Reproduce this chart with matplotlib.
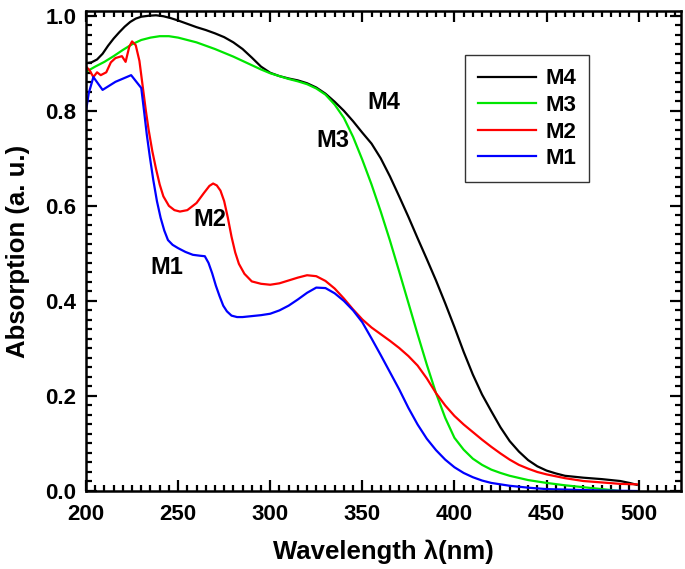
import matplotlib
matplotlib.use("Agg")
import matplotlib.pyplot as plt
from matplotlib.ticker import MultipleLocator

plt.rcParams['font.family'] = ['Liberation Sans', 'DejaVu Sans']
plt.rcParams['font.weight'] = 'bold'

# ── data ─────────────────────────────────────────────────────────────────────
m4_wl = [200, 203, 206, 209, 212, 215, 218, 221, 224, 227, 230, 234, 238, 242, 246,
         250, 255, 260, 265, 270, 275, 280, 285, 290, 295, 300, 305, 310, 315, 320,
         325, 330, 335, 340, 345, 350, 355, 360, 365, 370, 375, 380, 385, 390, 395,
         400, 405, 410, 415, 420, 425, 430, 435, 440, 445, 450, 455, 460, 470, 480,
         485, 490, 495, 499]
m4_abs = [0.900, 0.902, 0.908, 0.920, 0.937, 0.952, 0.965, 0.977, 0.987, 0.994, 0.998,
          1.000, 1.001, 0.999, 0.995, 0.990, 0.983, 0.976, 0.970, 0.963, 0.955, 0.944,
          0.930, 0.912, 0.893, 0.880, 0.873, 0.868, 0.864, 0.858, 0.849, 0.836, 0.819,
          0.800, 0.778, 0.754, 0.731, 0.700, 0.662, 0.620, 0.577, 0.532, 0.488, 0.443,
          0.395, 0.345, 0.293, 0.245, 0.203, 0.168, 0.134, 0.105, 0.083, 0.065, 0.052,
          0.043, 0.037, 0.032, 0.028, 0.025, 0.023, 0.021, 0.017, 0.013]

m3_wl = [200, 205, 210, 215, 220, 225, 230, 235, 240, 245, 250, 255, 260, 265, 270,
         275, 280, 285, 290, 295, 300, 305, 310, 315, 320, 325, 330, 335, 340, 345,
         350, 355, 360, 365, 370, 375, 380, 385, 390, 395, 400, 405, 410, 415, 420,
         425, 430, 440, 450, 460, 470, 480, 490]
m3_abs = [0.882, 0.893, 0.903, 0.915, 0.928, 0.940, 0.949, 0.954, 0.957, 0.957, 0.954,
          0.949, 0.944, 0.937, 0.930, 0.922, 0.914, 0.905, 0.896, 0.887, 0.879, 0.873,
          0.867, 0.862, 0.856, 0.847, 0.834, 0.813, 0.785, 0.745, 0.697, 0.645, 0.588,
          0.527, 0.462, 0.396, 0.330, 0.266, 0.206, 0.154, 0.112, 0.087, 0.068, 0.055,
          0.045, 0.038, 0.032, 0.023, 0.017, 0.012, 0.008, 0.004, 0.000]

m2_wl = [200, 202, 204, 206, 208, 211, 213.5, 216, 219.5, 221.5, 223.5, 225, 227, 229,
         230.5, 232.5, 234, 236, 238, 240, 242, 245, 248, 251, 255, 260, 264, 267, 269,
         271, 273, 275, 277, 279, 281, 283, 286, 290, 295, 300, 305, 310, 315, 320,
         325, 330, 335, 340, 345, 350, 355, 360, 365, 370, 375, 380, 385, 390, 395,
         400, 405, 410, 415, 420, 425, 430, 435, 440, 445, 450, 460, 470, 480, 490, 499]
m2_abs = [0.893, 0.885, 0.871, 0.881, 0.875, 0.881, 0.902, 0.911, 0.915, 0.903, 0.935,
          0.946, 0.938, 0.905, 0.860, 0.800, 0.760, 0.715, 0.678, 0.645, 0.620, 0.600,
          0.591, 0.588, 0.591, 0.606, 0.627, 0.642, 0.647, 0.643, 0.632, 0.610, 0.575,
          0.535, 0.502, 0.478, 0.457, 0.441, 0.436, 0.434, 0.437, 0.443, 0.449, 0.454,
          0.452, 0.442, 0.426, 0.405, 0.382, 0.361, 0.344, 0.330, 0.316, 0.301, 0.284,
          0.264, 0.237, 0.206, 0.180, 0.158, 0.140, 0.124, 0.108, 0.093, 0.079, 0.066,
          0.055, 0.047, 0.040, 0.035, 0.027, 0.021, 0.018, 0.015, 0.014]

m1_wl = [200, 201.5, 204, 209, 216, 224.5, 230, 231.5, 233, 234.7, 236.5, 238.5, 240.5,
         242.5, 244.5, 247, 250, 254, 258, 262, 264.5, 266.5, 268.5, 270.5, 272.5,
         274.5, 276.5, 279, 282, 285, 290, 295, 300, 305, 310, 315, 320, 325, 330, 335,
         340, 345, 350, 355, 360, 365, 370, 375, 380, 385, 390, 395, 400, 405, 410, 415,
         420, 430, 440, 450, 460, 480, 499]
m1_abs = [0.800, 0.837, 0.871, 0.844, 0.861, 0.875, 0.848, 0.800, 0.750, 0.702, 0.655,
          0.610, 0.575, 0.548, 0.528, 0.518, 0.511, 0.503, 0.497, 0.495, 0.494, 0.480,
          0.458, 0.432, 0.410, 0.390, 0.378, 0.369, 0.366, 0.366, 0.368, 0.370, 0.373,
          0.380, 0.390, 0.403, 0.417, 0.428, 0.427, 0.416, 0.400, 0.380, 0.355, 0.321,
          0.286, 0.250, 0.214, 0.175, 0.140, 0.110, 0.086, 0.066, 0.050, 0.038, 0.029,
          0.022, 0.017, 0.011, 0.007, 0.004, 0.003, 0.001, 0.000]

series = [("M4", m4_wl, m4_abs, "black"),
          ("M3", m3_wl, m3_abs, "#00e600"),
          ("M2", m2_wl, m2_abs, "#ff0000"),
          ("M1", m1_wl, m1_abs, "#0000ff")]

# curve labels (text, wavelength, absorption)
curve_labels = [("M4", 361.7, 0.817), ("M3", 334, 0.737),
                ("M2", 267.3, 0.571), ("M1", 243.8, 0.471)]

fig = plt.figure(figsize=(6.85, 5.69), dpi=100)
ax = fig.add_axes([86 / 685, 1 - 491 / 569, 595 / 685, 480 / 569])

for name, wl, ab, col in series:
    ax.plot(wl, ab, color=col, lw=1.6, label=name)

for txt, x, y in curve_labels:
    ax.text(x, y, txt, fontsize=17, fontweight='bold', ha='center', va='center')

ax.set_xlim(200, 523)
ax.set_ylim(0, 1.01)
ax.xaxis.set_major_locator(MultipleLocator(50))
ax.xaxis.set_minor_locator(MultipleLocator(5))
ax.yaxis.set_major_locator(MultipleLocator(0.2))
ax.yaxis.set_minor_locator(MultipleLocator(0.02))
ax.yaxis.set_major_formatter(plt.FuncFormatter(lambda v, p: f"{v:.1f}"))

ax.tick_params(which='both', direction='in', top=True, right=True, width=1.6)
ax.tick_params(which='major', length=8, labelsize=16)
ax.tick_params(which='minor', length=4.5)
ax.tick_params(axis='x', which='major', pad=9)
ax.tick_params(axis='y', which='major', pad=7)
for s in ax.spines.values():
    s.set_linewidth(1.8)

ax.set_xlabel("Wavelength λ(nm)", fontsize=18.5, fontweight='bold', labelpad=11)
ax.set_ylabel("Absorption (a. u.)", fontsize=18.5, fontweight='bold', labelpad=11)

leg = ax.legend(loc='upper left', bbox_to_anchor=(0.637, 0.908), borderaxespad=0,
                handlelength=2.6, handletextpad=0.4,
                labelspacing=0.25, borderpad=0.6, fancybox=False,
                prop={'weight': 'bold', 'size': 16})
leg.get_frame().set_edgecolor('black')
leg.get_frame().set_linewidth(1.0)

fig.savefig("out.png", dpi=100)
